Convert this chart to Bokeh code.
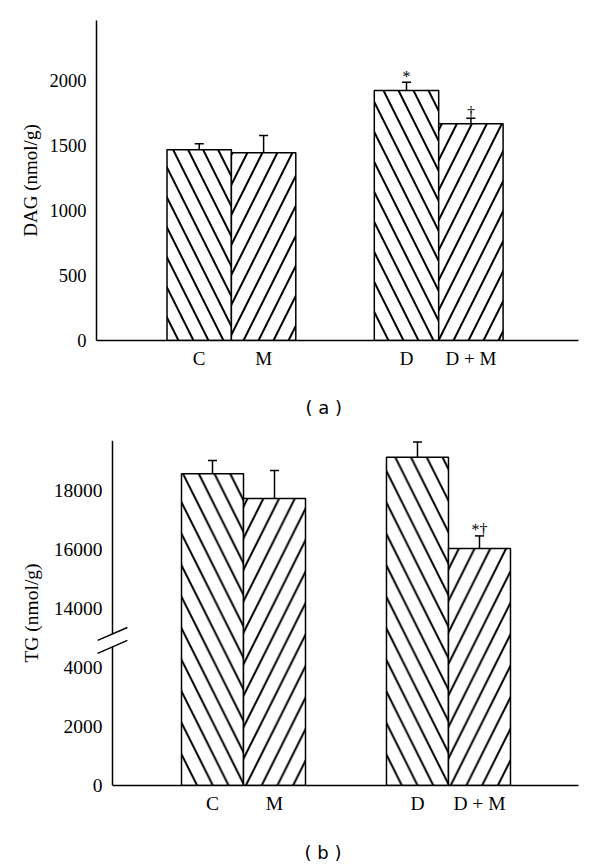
import numpy as np
from bokeh.plotting import figure
from bokeh.layouts import column
from bokeh.models import FixedTicker, Range1d, Title
from bokeh.core.properties import value
from bokeh.embed import file_html
from bokeh.resources import INLINE

# ---------------- data ----------------
categories = ["C", "M", "D", "D + M"]
hatches = ["\\", "/", "\\", "/"]

dag_mean = [1467, 1444, 1923, 1667]
dag_err = [46, 133, 64, 43]
dag_marks = ["", "", "*", "†"]
dag_ticks = [0, 500, 1000, 1500, 2000]

tg_mean = [18560, 17720, 19125, 16030]
tg_err = [450, 956, 510, 426]
tg_marks = ["", "", "", "*†"]
tg_ticks = [0, 2000, 4000, 14000, 16000, 18000]

# broken axis for TG: values above the break are shifted down
TG_BREAK = 10000
TG_SHIFT = 8000


def tg_disp(v):
    v = np.asarray(v, dtype=float)
    return np.where(v >= TG_BREAK, v - TG_SHIFT, v)


SERIF = "Liberation Serif"
SANS = "DejaVu Sans"


def positions(gap):
    idx = np.arange(len(categories))
    return np.round(idx + np.where(idx >= 2, gap, 0.0), 3)


def style(p, ylabel, fs_tick, fs_cat, xs, ystand, lstand):
    p.xgrid.visible = False
    p.ygrid.visible = False
    p.outline_line_color = None
    p.background_fill_color = "white"
    p.border_fill_color = "white"
    ax = p.xaxis[0]
    ax.ticker = FixedTicker(ticks=[float(x) for x in xs])
    ax.major_label_overrides = {float(x): c for x, c in zip(xs, categories)}
    ax.axis_line_color = "black"
    ax.axis_line_width = 1.5
    ax.major_tick_line_color = None
    ax.minor_tick_line_color = None
    ax.major_tick_out = 0
    ax.major_tick_in = 0
    ax.major_label_standoff = 7
    ax.major_label_text_font = SERIF
    ax.major_label_text_font_size = fs_cat
    ax.major_label_text_color = "black"
    ay = p.yaxis[0]
    ay.axis_line_color = "black"
    ay.axis_line_width = 1.5
    ay.major_tick_line_color = None
    ay.minor_tick_line_color = None
    ay.major_tick_out = 0
    ay.major_tick_in = 0
    ay.major_label_standoff = ystand
    ay.major_label_text_font = SERIF
    ay.major_label_text_font_size = fs_tick
    ay.major_label_text_color = "black"
    ay.axis_label = ylabel
    ay.axis_label_text_font = SERIF
    ay.axis_label_text_font_size = fs_cat
    ay.axis_label_text_font_style = "normal"
    ay.axis_label_text_color = "black"
    ay.axis_label_standoff = lstand


def caption(p, text, standoff, offset):
    p.add_layout(Title(text=text, align="left", offset=offset, standoff=standoff,
                       text_font=SANS, text_font_size="18px",
                       text_font_style="normal", text_color="black"), "below")


def bars(p, xs, tops, errs, marks, hscale):
    tops = np.asarray(tops, dtype=float)
    ups = tops + np.asarray(errs, dtype=float)
    p.vbar(x=xs, top=tops, bottom=0, width=1.0, fill_color="white",
           line_color="black", line_width=1.5, hatch_pattern=hatches,
           hatch_color="black", hatch_weight=2, hatch_scale=hscale)
    p.segment(x0=xs, y0=tops, x1=xs, y1=ups, line_color="black", line_width=1.5)
    p.scatter(x=xs, y=ups, marker="dash", size=9, line_color="black", line_width=1.5)
    p.text(x=xs, y=ups, text=marks, text_align="center", text_baseline="alphabetic",
           y_offset=-6, text_font=value(SERIF), text_font_size="16px", text_color="black")


# ---------------- panel (a) ----------------
xs1 = positions(1.219)
p1 = figure(width=600, height=440, x_range=Range1d(-1.595, 5.89),
            y_range=Range1d(0, 2462), output_backend="svg", toolbar_location=None,
            min_border_left=96, min_border_right=22, min_border_top=20,
            min_border_bottom=100)
bars(p1, xs1, dag_mean, dag_err, dag_marks, 30)
style(p1, "DAG (nmol/g)", "18.5px", "19px", xs1, 10, 6)
p1.yaxis[0].ticker = FixedTicker(ticks=dag_ticks)
caption(p1, "( a )", 46, 209)

# ---------------- panel (b) ----------------
xs2 = positions(1.306)
X2_START, X2_END = -1.871, 5.903
AXIS_X = -1.613          # where the broken y axis stands (16 px inside the frame)
Y2_END = 11689
p2 = figure(width=600, height=376, x_range=Range1d(X2_START, X2_END),
            y_range=Range1d(0, Y2_END), output_backend="svg", toolbar_location=None,
            min_border_left=96, min_border_right=22, min_border_top=0,
            min_border_bottom=30)
bars(p2, xs2, tg_disp(tg_mean), tg_err, tg_marks, 31.5)
# labels pulled 16 px towards the drawn axis line (negative standoff)
style(p2, "TG (nmol/g)", "19.5px", "19.5px", xs2, -6, 9)
disp_ticks = [float(t) for t in tg_disp(tg_ticks)]
ay2 = p2.yaxis[0]
ay2.ticker = FixedTicker(ticks=disp_ticks)
ay2.major_label_overrides = {d: str(t) for d, t in zip(disp_ticks, tg_ticks)}
ay2.axis_line_color = None
p2.xaxis[0].bounds = (AXIS_X, X2_END)

# axis line in two pieces plus the two break marks
BREAK_LO, BREAK_HI = 4696, 5135
DX, DY = 0.24, 220
p2.segment(x0=[AXIS_X, AXIS_X], y0=[0, BREAK_HI], x1=[AXIS_X, AXIS_X],
           y1=[BREAK_LO, Y2_END], line_color="black", line_width=1.5)
p2.segment(x0=[AXIS_X - DX] * 2, y0=[BREAK_LO - DY, BREAK_HI - DY],
           x1=[AXIS_X + DX] * 2, y1=[BREAK_LO + DY, BREAK_HI + DY],
           line_color="black", line_width=1.5)

# caption strip for panel (b): empty frame, caption underneath
p3 = figure(width=600, height=46, x_range=Range1d(0, 1), y_range=Range1d(0, 1),
            output_backend="svg", toolbar_location=None, x_axis_location=None,
            y_axis_location=None, min_border_left=96, min_border_right=22,
            min_border_top=0, min_border_bottom=23)
p3.grid.visible = False
p3.outline_line_color = None
p3.background_fill_color = "white"
p3.border_fill_color = "white"
caption(p3, "( b )", 0, 208)

layout = column(p1, p2, p3, spacing=0)
open("out.html", "w").write(file_html(layout, INLINE))
